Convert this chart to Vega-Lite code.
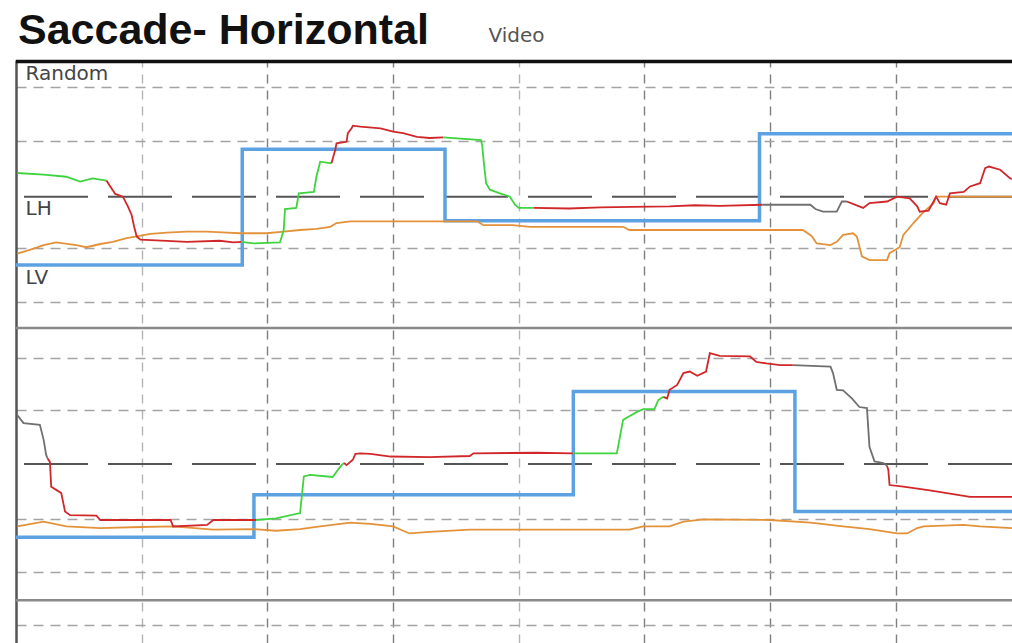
{
  "$schema": "https://vega.github.io/schema/vega-lite/v6.json",
  "width": 996,
  "height": 583,
  "autosize": {"type": "none"},
  "padding": {"left": 16, "top": 60, "right": 0, "bottom": 0},
  "background": "white",
  "config": {"view": {"stroke": null}},
  "title": {"text": "Saccade- Horizontal", "anchor": "start", "frame": "group", "font": "Liberation Sans", "fontSize": 43, "fontWeight": "bold", "color": "#111111", "dx": 2, "offset": -28},
  "datasets": {
    "refs": [
      {"u": 0.03, "k": "border"},
      {"u": 2.54, "k": "center"},
      {"u": 4.98, "k": "divider"},
      {"u": 7.51, "k": "center"},
      {"u": 10.04, "k": "divider"}
    ],
    "target": [
      {"s": "top", "t": 0, "u": 3.81},
      {"s": "top", "t": 1.8, "u": 1.66},
      {"s": "top", "t": 3.413, "u": 2.99},
      {"s": "top", "t": 5.915, "u": 1.37},
      {"s": "top", "t": 7.924, "u": 1.37},
      {"s": "bot", "t": 0, "u": 8.87},
      {"s": "bot", "t": 1.893, "u": 8.08},
      {"s": "bot", "t": 4.434, "u": 6.16},
      {"s": "bot", "t": 6.197, "u": 8.39},
      {"s": "bot", "t": 7.924, "u": 8.39}
    ],
    "trace": [
      {"s": "a1", "c": "green", "t": 0.01, "u": 2.10},
      {"s": "a1", "c": "green", "t": 0.22, "u": 2.13},
      {"s": "a1", "c": "green", "t": 0.40, "u": 2.17},
      {"s": "a1", "c": "green", "t": 0.51, "u": 2.26},
      {"s": "a1", "c": "green", "t": 0.61, "u": 2.20},
      {"s": "a1", "c": "green", "t": 0.72, "u": 2.24},
      {"s": "a2", "c": "red", "t": 0.72, "u": 2.24},
      {"s": "a2", "c": "red", "t": 0.75, "u": 2.35},
      {"s": "a2", "c": "red", "t": 0.79, "u": 2.49},
      {"s": "a2", "c": "red", "t": 0.85, "u": 2.54},
      {"s": "a2", "c": "red", "t": 0.89, "u": 2.72},
      {"s": "a2", "c": "red", "t": 0.92, "u": 2.88},
      {"s": "a2", "c": "red", "t": 0.94, "u": 3.10},
      {"s": "a2", "c": "red", "t": 0.96, "u": 3.28},
      {"s": "a2", "c": "red", "t": 0.99, "u": 3.34},
      {"s": "a2", "c": "red", "t": 1.20, "u": 3.36},
      {"s": "a2", "c": "red", "t": 1.36, "u": 3.38},
      {"s": "a2", "c": "red", "t": 1.62, "u": 3.36},
      {"s": "a2", "c": "red", "t": 1.73, "u": 3.39},
      {"s": "a2", "c": "red", "t": 1.79, "u": 3.38},
      {"s": "a3", "c": "green", "t": 1.79, "u": 3.38},
      {"s": "a3", "c": "green", "t": 1.89, "u": 3.41},
      {"s": "a3", "c": "green", "t": 2.10, "u": 3.39},
      {"s": "a3", "c": "green", "t": 2.13, "u": 3.16},
      {"s": "a3", "c": "green", "t": 2.14, "u": 2.77},
      {"s": "a3", "c": "green", "t": 2.23, "u": 2.75},
      {"s": "a3", "c": "green", "t": 2.25, "u": 2.48},
      {"s": "a3", "c": "green", "t": 2.37, "u": 2.45},
      {"s": "a3", "c": "green", "t": 2.39, "u": 2.17},
      {"s": "a3", "c": "green", "t": 2.42, "u": 1.89},
      {"s": "a3", "c": "green", "t": 2.51, "u": 1.92},
      {"s": "a4", "c": "red", "t": 2.51, "u": 1.92},
      {"s": "a4", "c": "red", "t": 2.54, "u": 1.67},
      {"s": "a4", "c": "red", "t": 2.55, "u": 1.55},
      {"s": "a4", "c": "red", "t": 2.63, "u": 1.52},
      {"s": "a4", "c": "red", "t": 2.64, "u": 1.36},
      {"s": "a4", "c": "red", "t": 2.67, "u": 1.27},
      {"s": "a4", "c": "red", "t": 2.68, "u": 1.22},
      {"s": "a4", "c": "red", "t": 2.74, "u": 1.24},
      {"s": "a4", "c": "red", "t": 2.90, "u": 1.27},
      {"s": "a4", "c": "red", "t": 3.00, "u": 1.33},
      {"s": "a4", "c": "red", "t": 3.08, "u": 1.36},
      {"s": "a4", "c": "red", "t": 3.19, "u": 1.43},
      {"s": "a4", "c": "red", "t": 3.29, "u": 1.45},
      {"s": "a4", "c": "red", "t": 3.40, "u": 1.44},
      {"s": "a5", "c": "green", "t": 3.40, "u": 1.44},
      {"s": "a5", "c": "green", "t": 3.70, "u": 1.49},
      {"s": "a5", "c": "green", "t": 3.71, "u": 1.61},
      {"s": "a5", "c": "green", "t": 3.72, "u": 1.86},
      {"s": "a5", "c": "green", "t": 3.74, "u": 2.29},
      {"s": "a5", "c": "green", "t": 3.77, "u": 2.41},
      {"s": "a5", "c": "green", "t": 3.85, "u": 2.48},
      {"s": "a5", "c": "green", "t": 3.93, "u": 2.54},
      {"s": "a5", "c": "green", "t": 3.97, "u": 2.69},
      {"s": "a5", "c": "green", "t": 4.00, "u": 2.75},
      {"s": "a5", "c": "green", "t": 4.12, "u": 2.75},
      {"s": "a6", "c": "red", "t": 4.12, "u": 2.75},
      {"s": "a6", "c": "red", "t": 4.40, "u": 2.76},
      {"s": "a6", "c": "red", "t": 4.65, "u": 2.74},
      {"s": "a6", "c": "red", "t": 4.90, "u": 2.73},
      {"s": "a6", "c": "red", "t": 5.20, "u": 2.72},
      {"s": "a6", "c": "red", "t": 5.40, "u": 2.70},
      {"s": "a6", "c": "red", "t": 5.60, "u": 2.71},
      {"s": "a6", "c": "red", "t": 5.94, "u": 2.69},
      {"s": "a7", "c": "gray", "t": 5.94, "u": 2.69},
      {"s": "a7", "c": "gray", "t": 6.32, "u": 2.69},
      {"s": "a7", "c": "gray", "t": 6.36, "u": 2.77},
      {"s": "a7", "c": "gray", "t": 6.42, "u": 2.82},
      {"s": "a7", "c": "gray", "t": 6.53, "u": 2.82},
      {"s": "a7", "c": "gray", "t": 6.57, "u": 2.63},
      {"s": "a7", "c": "gray", "t": 6.61, "u": 2.63},
      {"s": "a8", "c": "red", "t": 6.61, "u": 2.63},
      {"s": "a8", "c": "red", "t": 6.74, "u": 2.75},
      {"s": "a8", "c": "red", "t": 6.79, "u": 2.66},
      {"s": "a8", "c": "red", "t": 6.93, "u": 2.63},
      {"s": "a8", "c": "red", "t": 7.01, "u": 2.54},
      {"s": "a8", "c": "red", "t": 7.11, "u": 2.57},
      {"s": "a8", "c": "red", "t": 7.17, "u": 2.72},
      {"s": "a8", "c": "red", "t": 7.19, "u": 2.82},
      {"s": "a8", "c": "red", "t": 7.26, "u": 2.80},
      {"s": "a8", "c": "red", "t": 7.30, "u": 2.63},
      {"s": "a8", "c": "red", "t": 7.32, "u": 2.54},
      {"s": "a8", "c": "red", "t": 7.35, "u": 2.66},
      {"s": "a8", "c": "red", "t": 7.40, "u": 2.69},
      {"s": "a8", "c": "red", "t": 7.43, "u": 2.48},
      {"s": "a8", "c": "red", "t": 7.54, "u": 2.45},
      {"s": "a8", "c": "red", "t": 7.59, "u": 2.35},
      {"s": "a8", "c": "red", "t": 7.67, "u": 2.29},
      {"s": "a8", "c": "red", "t": 7.71, "u": 2.01},
      {"s": "a8", "c": "red", "t": 7.74, "u": 1.98},
      {"s": "a8", "c": "red", "t": 7.83, "u": 2.04},
      {"s": "a8", "c": "red", "t": 7.91, "u": 2.20},
      {"s": "a8", "c": "red", "t": 7.924, "u": 2.21},
      {"s": "o1", "c": "orange", "t": 0.01, "u": 3.60},
      {"s": "o1", "c": "orange", "t": 0.11, "u": 3.53},
      {"s": "o1", "c": "orange", "t": 0.22, "u": 3.44},
      {"s": "o1", "c": "orange", "t": 0.32, "u": 3.39},
      {"s": "o1", "c": "orange", "t": 0.48, "u": 3.44},
      {"s": "o1", "c": "orange", "t": 0.56, "u": 3.48},
      {"s": "o1", "c": "orange", "t": 0.67, "u": 3.42},
      {"s": "o1", "c": "orange", "t": 0.77, "u": 3.38},
      {"s": "o1", "c": "orange", "t": 0.88, "u": 3.31},
      {"s": "o1", "c": "orange", "t": 0.96, "u": 3.28},
      {"s": "o1", "c": "orange", "t": 1.07, "u": 3.23},
      {"s": "o1", "c": "orange", "t": 1.20, "u": 3.21},
      {"s": "o1", "c": "orange", "t": 1.36, "u": 3.19},
      {"s": "o1", "c": "orange", "t": 1.52, "u": 3.19},
      {"s": "o1", "c": "orange", "t": 1.68, "u": 3.21},
      {"s": "o1", "c": "orange", "t": 1.78, "u": 3.22},
      {"s": "o1", "c": "orange", "t": 1.99, "u": 3.22},
      {"s": "o1", "c": "orange", "t": 2.13, "u": 3.19},
      {"s": "o1", "c": "orange", "t": 2.26, "u": 3.16},
      {"s": "o1", "c": "orange", "t": 2.39, "u": 3.14},
      {"s": "o1", "c": "orange", "t": 2.50, "u": 3.10},
      {"s": "o1", "c": "orange", "t": 2.55, "u": 3.03},
      {"s": "o1", "c": "orange", "t": 2.66, "u": 3.00},
      {"s": "o1", "c": "orange", "t": 3.67, "u": 3.00},
      {"s": "o1", "c": "orange", "t": 3.72, "u": 3.07},
      {"s": "o1", "c": "orange", "t": 3.95, "u": 3.07},
      {"s": "o1", "c": "orange", "t": 4.09, "u": 3.10},
      {"s": "o1", "c": "orange", "t": 4.83, "u": 3.10},
      {"s": "o1", "c": "orange", "t": 4.88, "u": 3.16},
      {"s": "o1", "c": "orange", "t": 6.26, "u": 3.16},
      {"s": "o1", "c": "orange", "t": 6.33, "u": 3.27},
      {"s": "o1", "c": "orange", "t": 6.37, "u": 3.41},
      {"s": "o1", "c": "orange", "t": 6.48, "u": 3.44},
      {"s": "o1", "c": "orange", "t": 6.53, "u": 3.38},
      {"s": "o1", "c": "orange", "t": 6.58, "u": 3.25},
      {"s": "o1", "c": "orange", "t": 6.66, "u": 3.22},
      {"s": "o1", "c": "orange", "t": 6.69, "u": 3.28},
      {"s": "o1", "c": "orange", "t": 6.73, "u": 3.65},
      {"s": "o1", "c": "orange", "t": 6.79, "u": 3.72},
      {"s": "o1", "c": "orange", "t": 6.93, "u": 3.72},
      {"s": "o1", "c": "orange", "t": 6.95, "u": 3.59},
      {"s": "o1", "c": "orange", "t": 7.03, "u": 3.48},
      {"s": "o1", "c": "orange", "t": 7.06, "u": 3.25},
      {"s": "o1", "c": "orange", "t": 7.14, "u": 3.03},
      {"s": "o1", "c": "orange", "t": 7.21, "u": 2.85},
      {"s": "o1", "c": "orange", "t": 7.30, "u": 2.66},
      {"s": "o1", "c": "orange", "t": 7.32, "u": 2.54},
      {"s": "o1", "c": "orange", "t": 7.924, "u": 2.54},
      {"s": "b1", "c": "gray", "t": 0.01, "u": 6.60},
      {"s": "b1", "c": "gray", "t": 0.06, "u": 6.75},
      {"s": "b1", "c": "gray", "t": 0.19, "u": 6.78},
      {"s": "b1", "c": "gray", "t": 0.22, "u": 7.06},
      {"s": "b1", "c": "gray", "t": 0.24, "u": 7.34},
      {"s": "b1", "c": "gray", "t": 0.25, "u": 7.40},
      {"s": "b2", "c": "red", "t": 0.25, "u": 7.40},
      {"s": "b2", "c": "red", "t": 0.27, "u": 7.47},
      {"s": "b2", "c": "red", "t": 0.28, "u": 7.93},
      {"s": "b2", "c": "red", "t": 0.32, "u": 7.99},
      {"s": "b2", "c": "red", "t": 0.36, "u": 8.05},
      {"s": "b2", "c": "red", "t": 0.39, "u": 8.39},
      {"s": "b2", "c": "red", "t": 0.43, "u": 8.46},
      {"s": "b2", "c": "red", "t": 0.64, "u": 8.47},
      {"s": "b2", "c": "red", "t": 0.67, "u": 8.55},
      {"s": "b2", "c": "red", "t": 1.23, "u": 8.55},
      {"s": "b2", "c": "red", "t": 1.25, "u": 8.67},
      {"s": "b2", "c": "red", "t": 1.52, "u": 8.64},
      {"s": "b2", "c": "red", "t": 1.57, "u": 8.55},
      {"s": "b2", "c": "red", "t": 1.91, "u": 8.55},
      {"s": "b3", "c": "green", "t": 1.91, "u": 8.55},
      {"s": "b3", "c": "green", "t": 2.07, "u": 8.52},
      {"s": "b3", "c": "green", "t": 2.26, "u": 8.42},
      {"s": "b3", "c": "green", "t": 2.29, "u": 7.74},
      {"s": "b3", "c": "green", "t": 2.34, "u": 7.71},
      {"s": "b3", "c": "green", "t": 2.52, "u": 7.75},
      {"s": "b3", "c": "green", "t": 2.56, "u": 7.62},
      {"s": "b3", "c": "green", "t": 2.59, "u": 7.53},
      {"s": "b3", "c": "green", "t": 2.61, "u": 7.49},
      {"s": "b4", "c": "red", "t": 2.61, "u": 7.49},
      {"s": "b4", "c": "red", "t": 2.63, "u": 7.53},
      {"s": "b4", "c": "red", "t": 2.68, "u": 7.43},
      {"s": "b4", "c": "red", "t": 2.70, "u": 7.32},
      {"s": "b4", "c": "red", "t": 2.74, "u": 7.31},
      {"s": "b4", "c": "red", "t": 2.82, "u": 7.32},
      {"s": "b4", "c": "red", "t": 2.98, "u": 7.37},
      {"s": "b4", "c": "red", "t": 3.29, "u": 7.38},
      {"s": "b4", "c": "red", "t": 3.61, "u": 7.36},
      {"s": "b4", "c": "red", "t": 3.64, "u": 7.31},
      {"s": "b4", "c": "red", "t": 4.14, "u": 7.30},
      {"s": "b4", "c": "red", "t": 4.43, "u": 7.31},
      {"s": "b5", "c": "green", "t": 4.43, "u": 7.31},
      {"s": "b5", "c": "green", "t": 4.78, "u": 7.31},
      {"s": "b5", "c": "green", "t": 4.83, "u": 6.69},
      {"s": "b5", "c": "green", "t": 4.88, "u": 6.62},
      {"s": "b5", "c": "green", "t": 4.94, "u": 6.54},
      {"s": "b5", "c": "green", "t": 4.99, "u": 6.49},
      {"s": "b5", "c": "green", "t": 5.08, "u": 6.49},
      {"s": "b5", "c": "green", "t": 5.11, "u": 6.32},
      {"s": "b5", "c": "green", "t": 5.15, "u": 6.26},
      {"s": "b6", "c": "red", "t": 5.15, "u": 6.26},
      {"s": "b6", "c": "red", "t": 5.18, "u": 6.29},
      {"s": "b6", "c": "red", "t": 5.20, "u": 6.13},
      {"s": "b6", "c": "red", "t": 5.26, "u": 6.04},
      {"s": "b6", "c": "red", "t": 5.31, "u": 5.82},
      {"s": "b6", "c": "red", "t": 5.36, "u": 5.79},
      {"s": "b6", "c": "red", "t": 5.42, "u": 5.87},
      {"s": "b6", "c": "red", "t": 5.49, "u": 5.79},
      {"s": "b6", "c": "red", "t": 5.52, "u": 5.45},
      {"s": "b6", "c": "red", "t": 5.60, "u": 5.50},
      {"s": "b6", "c": "red", "t": 5.84, "u": 5.51},
      {"s": "b6", "c": "red", "t": 5.89, "u": 5.61},
      {"s": "b6", "c": "red", "t": 5.97, "u": 5.64},
      {"s": "b6", "c": "red", "t": 6.08, "u": 5.67},
      {"s": "b6", "c": "red", "t": 6.18, "u": 5.67},
      {"s": "b7", "c": "gray", "t": 6.18, "u": 5.67},
      {"s": "b7", "c": "gray", "t": 6.48, "u": 5.70},
      {"s": "b7", "c": "gray", "t": 6.50, "u": 5.82},
      {"s": "b7", "c": "gray", "t": 6.53, "u": 6.13},
      {"s": "b7", "c": "gray", "t": 6.58, "u": 6.14},
      {"s": "b7", "c": "gray", "t": 6.65, "u": 6.29},
      {"s": "b7", "c": "gray", "t": 6.71, "u": 6.45},
      {"s": "b7", "c": "gray", "t": 6.77, "u": 6.47},
      {"s": "b7", "c": "gray", "t": 6.79, "u": 7.19},
      {"s": "b7", "c": "gray", "t": 6.83, "u": 7.46},
      {"s": "b7", "c": "gray", "t": 6.90, "u": 7.49},
      {"s": "b7", "c": "gray", "t": 6.93, "u": 7.54},
      {"s": "b8", "c": "red", "t": 6.93, "u": 7.54},
      {"s": "b8", "c": "red", "t": 6.94, "u": 7.62},
      {"s": "b8", "c": "red", "t": 6.95, "u": 7.90},
      {"s": "b8", "c": "red", "t": 7.06, "u": 7.93},
      {"s": "b8", "c": "red", "t": 7.27, "u": 8.00},
      {"s": "b8", "c": "red", "t": 7.48, "u": 8.08},
      {"s": "b8", "c": "red", "t": 7.59, "u": 8.12},
      {"s": "b8", "c": "red", "t": 7.924, "u": 8.12},
      {"s": "o2", "c": "orange", "t": 0.01, "u": 8.67},
      {"s": "o2", "c": "orange", "t": 0.22, "u": 8.58},
      {"s": "o2", "c": "orange", "t": 0.40, "u": 8.67},
      {"s": "o2", "c": "orange", "t": 0.67, "u": 8.70},
      {"s": "o2", "c": "orange", "t": 0.99, "u": 8.68},
      {"s": "o2", "c": "orange", "t": 1.25, "u": 8.67},
      {"s": "o2", "c": "orange", "t": 1.57, "u": 8.73},
      {"s": "o2", "c": "orange", "t": 1.89, "u": 8.72},
      {"s": "o2", "c": "orange", "t": 2.07, "u": 8.75},
      {"s": "o2", "c": "orange", "t": 2.26, "u": 8.72},
      {"s": "o2", "c": "orange", "t": 2.42, "u": 8.67},
      {"s": "o2", "c": "orange", "t": 2.66, "u": 8.60},
      {"s": "o2", "c": "orange", "t": 2.82, "u": 8.62},
      {"s": "o2", "c": "orange", "t": 3.00, "u": 8.67},
      {"s": "o2", "c": "orange", "t": 3.13, "u": 8.80},
      {"s": "o2", "c": "orange", "t": 3.29, "u": 8.77},
      {"s": "o2", "c": "orange", "t": 3.61, "u": 8.73},
      {"s": "o2", "c": "orange", "t": 4.88, "u": 8.73},
      {"s": "o2", "c": "orange", "t": 4.99, "u": 8.67},
      {"s": "o2", "c": "orange", "t": 5.20, "u": 8.67},
      {"s": "o2", "c": "orange", "t": 5.31, "u": 8.58},
      {"s": "o2", "c": "orange", "t": 5.47, "u": 8.54},
      {"s": "o2", "c": "orange", "t": 6.00, "u": 8.55},
      {"s": "o2", "c": "orange", "t": 6.32, "u": 8.60},
      {"s": "o2", "c": "orange", "t": 6.58, "u": 8.67},
      {"s": "o2", "c": "orange", "t": 6.79, "u": 8.72},
      {"s": "o2", "c": "orange", "t": 7.01, "u": 8.80},
      {"s": "o2", "c": "orange", "t": 7.09, "u": 8.80},
      {"s": "o2", "c": "orange", "t": 7.17, "u": 8.70},
      {"s": "o2", "c": "orange", "t": 7.22, "u": 8.67},
      {"s": "o2", "c": "orange", "t": 7.54, "u": 8.64},
      {"s": "o2", "c": "orange", "t": 7.67, "u": 8.67},
      {"s": "o2", "c": "orange", "t": 7.924, "u": 8.70}
    ]
  },
  "layer": [
    {
      "data": {"name": "refs"},
      "transform": [{"filter": "datum.k === 'divider'"}],
      "mark": {"type": "rule", "color": "#8a8a8a", "strokeWidth": 2.5},
      "encoding": {
        "y": {
          "field": "u", "type": "quantitative",
          "scale": {"domain": [0, 10.836], "reverse": true, "nice": false, "zero": false},
          "axis": {
            "orient": "left",
            "values": [0.37, 0.5, 1.5, 2.88, 3.5, 4.16, 4.5, 5.54, 6.5, 8.53, 9.52, 10.5],
            "grid": true, "gridDash": [10, 7], "gridColor": "#a3a3a3", "gridWidth": 1.4,
            "gridOpacity": {"condition": {"test": "datum.value == 0.37 || datum.value == 2.88 || datum.value == 4.16", "value": 0}, "value": 1},
            "ticks": false, "tickSize": 0,
            "domain": true, "domainColor": "#555555", "domainWidth": 2.5,
            "labelExpr": "datum.value == 0.37 ? 'Random' : datum.value == 2.88 ? 'LH' : datum.value == 4.16 ? 'LV' : ''",
            "labelAlign": "left", "labelBaseline": "alphabetic", "labelPadding": -9,
            "labelFont": "DejaVu Sans", "labelFontSize": 20, "labelColor": "#444444",
            "labelOverlap": false, "labelBound": false, "labelFlush": false,
            "title": "Video", "titleAngle": 0, "titleX": 472, "titleY": -19,
            "titleAlign": "left", "titleBaseline": "alphabetic",
            "titleFont": "DejaVu Sans", "titleFontSize": 20, "titleFontWeight": "normal", "titleColor": "#555555"
          }
        }
      }
    },
    {
      "data": {"name": "refs"},
      "transform": [{"filter": "datum.k === 'center'"}],
      "mark": {"type": "rule", "color": "#555555", "strokeWidth": 2, "strokeDash": [64, 20]},
      "encoding": {"y": {"field": "u", "type": "quantitative"}}
    },
    {
      "data": {"name": "refs"},
      "transform": [{"filter": "datum.k === 'border'"}],
      "mark": {"type": "rule", "color": "#111111", "strokeWidth": 3.5},
      "encoding": {"y": {"field": "u", "type": "quantitative"}}
    },
    {
      "data": {"name": "target"},
      "mark": {"type": "line", "interpolate": "step-after", "color": "#5ca2e3", "strokeWidth": 3.5},
      "encoding": {
        "x": {"field": "t", "type": "quantitative"},
        "y": {"field": "u", "type": "quantitative"},
        "detail": {"field": "s"}
      }
    },
    {
      "data": {"name": "trace"},
      "transform": [{"filter": "datum.c === 'orange'"}],
      "mark": {"type": "line", "color": "#e3923a", "strokeWidth": 1.8},
      "encoding": {
        "x": {"field": "t", "type": "quantitative"},
        "y": {"field": "u", "type": "quantitative"},
        "detail": {"field": "s"}
      }
    },
    {
      "data": {"name": "trace"},
      "transform": [{"filter": "datum.c !== 'orange'"}],
      "mark": {"type": "line", "strokeWidth": 1.8},
      "encoding": {
        "x": {
          "field": "t", "type": "quantitative",
          "scale": {"domain": [0, 7.924], "nice": false, "zero": false},
          "axis": {"orient": "bottom", "values": [1, 2, 3, 4, 5, 6, 7], "grid": true, "gridDash": [9, 7],
            "gridColor": {"condition": {"test": "datum.value == 1 || datum.value == 4", "value": "#b5b5b5"}, "value": "#7f7f7f"},
            "gridWidth": 1.4, "labels": false, "ticks": false, "domain": false, "title": null}
        },
        "y": {"field": "u", "type": "quantitative"},
        "color": {"field": "c", "type": "nominal", "scale": {"domain": ["red", "green", "gray"], "range": ["#d0282a", "#3fd43f", "#707070"]}, "legend": null},
        "detail": {"field": "s"}
      }
    }
  ]
}
